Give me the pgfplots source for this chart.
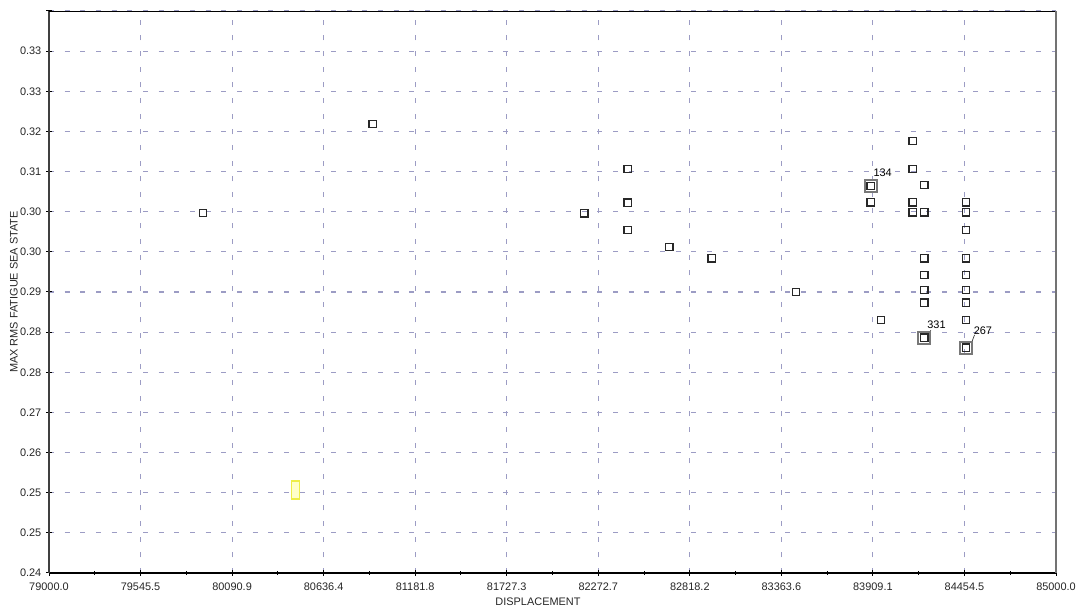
\documentclass[border=0pt]{standalone}
\usepackage{fontspec}
\setmainfont{Liberation Sans}
\usepackage{pgfplots}
\pgfplotsset{compat=1.18}
\definecolor{gridc}{RGB}{156,156,196}
\definecolor{mk}{RGB}{40,40,40}
\definecolor{bigmk}{RGB}{120,120,120}
\definecolor{yfill}{RGB}{255,255,200}
\definecolor{ydraw}{RGB}{238,238,70}
\pgfdeclareplotmark{yrect}{%
  \pgfpathrectangle{\pgfqpoint{-2.85pt}{-6.75pt}}{\pgfqpoint{5.7pt}{13.5pt}}%
  \pgfusepathqfillstroke}
\newcommand{\lbl}{\fontsize{8.2}{9.5}\selectfont}
\begin{document}
\begin{tikzpicture}
\begin{axis}[
  scale only axis,
  width=755.25pt, height=421.5pt,
  xmin=79000, xmax=85000, ymin=0.24, ymax=0.34,
  scaled x ticks=false, scaled y ticks=false,
  clip=false,
  axis x line=bottom, axis y line=left,
  axis line style={-},
  x axis line style={black, line width=0.8pt},
  y axis line style={black!75, line width=1.2pt},
  xtick={79000,79545.4545,80090.9091,80636.3636,81181.8182,81727.2727,82272.7273,82818.1818,83363.6364,83909.0909,84454.5455,85000},
  xticklabels={79000.0,79545.5,80090.9,80636.4,81181.8,81727.3,82272.7,82818.2,83363.6,83909.1,84454.5,85000.0},
  ytick={0.24,0.2471429,0.2542857,0.2614286,0.2685714,0.2757143,0.2828571,0.29,0.2971429,0.3042857,0.3114286,0.3185714,0.3257143,0.3328571,0.34},
  yticklabels={0.24,0.25,0.25,0.26,0.27,0.28,0.28,0.29,0.30,0.30,0.31,0.32,0.33,0.33,{}},
  minor x tick num=1, minor y tick num=1,
  tick align=center,
  major tick length=4.5pt, minor tick length=3pt,
  tick style={black, line width=0.75pt},
  minor tick style={black, line width=0.75pt},
  grid=major,
  major grid style={dash pattern=on 3.75pt off 8pt, color=gridc, line width=0.8pt},
  ticklabel style={font=\lbl, text=black!85},
  xticklabel style={yshift=-1.5pt},
  /pgf/number format/assume math mode=true,
  xlabel={DISPLACEMENT},
  ylabel={MAX RMS FATIGUE SEA STATE},
  xlabel style={font=\lbl, text=black!85, at={(axis description cs:0.4856,-0.0516)}, anchor=center},
  ylabel style={font=\lbl, text=black!85, at={(axis description cs:-0.0348,0.5)}, anchor=center},
]
% highlighted (large) markers underneath
\addplot[only marks, mark=square, mark size=4.4pt, mark options={draw=bigmk, line width=1.5pt, fill=white}]
  coordinates {(83895.9,0.30886) (84215.3,0.28187) (84463.8,0.28009)};
% all points
\addplot[only marks, mark=square, mark size=2.8pt, mark options={draw=mk, line width=0.85pt, fill=white}]
  coordinates {
  (79917.6,0.30406) (80928.7,0.31990) (82189.5,0.30400)
  (82448.0,0.31189) (82448.0,0.30589) (82448.0,0.30103)
  (82696.0,0.29801) (82948.5,0.29600) (83450.8,0.29000)
  (83895.9,0.30886) (83895.9,0.30596) (83957.0,0.28502)
  (84146.0,0.31687) (84146.0,0.31189) (84146.0,0.30596) (84146.0,0.30418)
  (84215.3,0.30904) (84215.3,0.30418) (84215.3,0.29600) (84215.3,0.29302)
  (84215.3,0.29036) (84215.3,0.28810) (84215.3,0.28187)
  (84463.8,0.30596) (84463.8,0.30418) (84463.8,0.30103) (84463.8,0.29600)
  (84463.8,0.29302) (84463.8,0.29036) (84463.8,0.28810) (84463.8,0.28502)
  (84463.8,0.28009)
  };
% yellow rectangle
\addplot[only marks, mark=yrect, mark options={draw=ydraw, fill=yfill, line width=0.9pt}]
  coordinates {(80468.7,0.25477)};
% labels
\node[anchor=south west, inner sep=0pt, font=\lbl] at ([xshift=1.9pt,yshift=6.6pt]axis cs:83895.9,0.30886) {134};
\draw[black!80, line width=0.5pt] ([xshift=4.4pt,yshift=4.4pt]axis cs:84215.3,0.28187) -- ([xshift=4.9pt,yshift=5.6pt]axis cs:84215.3,0.28187);
\node[anchor=south west, inner sep=0pt, font=\lbl] at ([xshift=2.1pt,yshift=6.4pt]axis cs:84215.3,0.28187) {331};
\draw[black!80, line width=0.5pt] ([xshift=4.4pt,yshift=4.4pt]axis cs:84463.8,0.28009) -- ([xshift=6.4pt,yshift=9.6pt]axis cs:84463.8,0.28009);
\node[anchor=south west, inner sep=0pt, font=\lbl] at ([xshift=5.6pt,yshift=9.7pt]axis cs:84463.8,0.28009) {267};
% top and right border
\draw[black, line width=0.6pt] (rel axis cs:0,1) -- (rel axis cs:1,1);
\draw[black!55, line width=1.6pt] (rel axis cs:1,0) -- (rel axis cs:1,1);
\end{axis}
\pgfresetboundingbox
\path ([xshift=-36.75pt,yshift=-27pt]current axis.south west) rectangle ([xshift=20.25pt,yshift=8.25pt]current axis.north east);
\end{tikzpicture}
\end{document}
